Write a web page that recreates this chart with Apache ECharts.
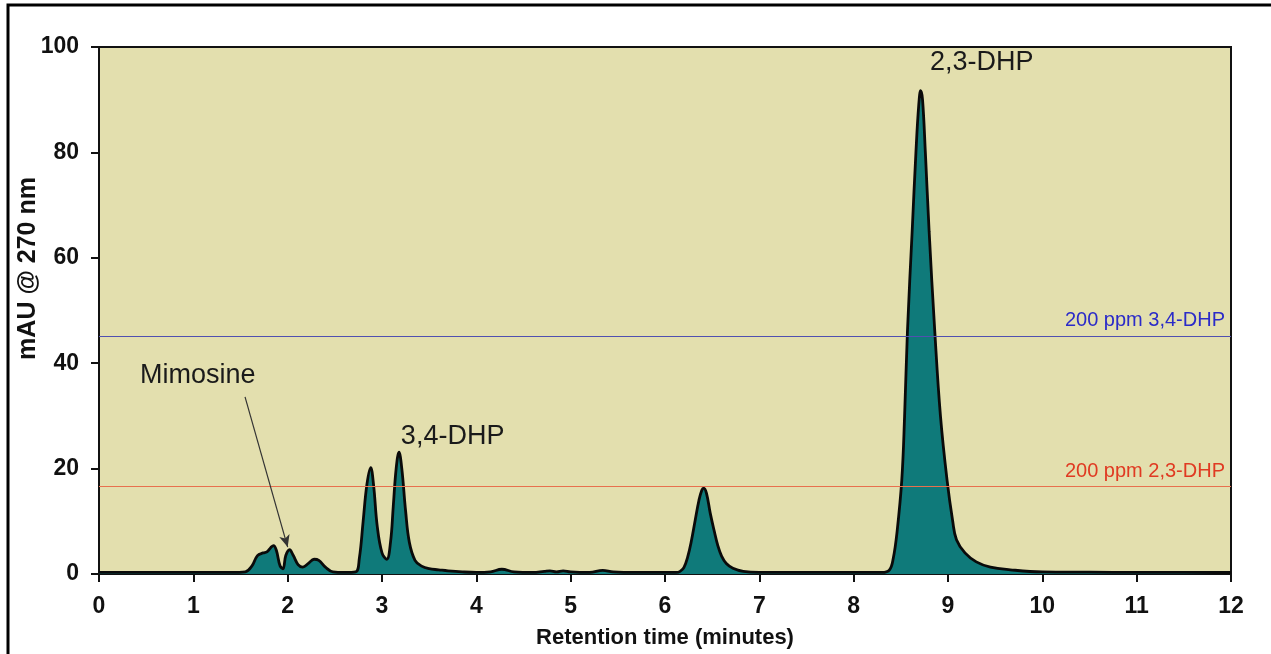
<!DOCTYPE html>
<html>
<head>
<meta charset="utf-8">
<script src="https://cdn.jsdelivr.net/npm/echarts@6/dist/echarts.min.js"></script>
<style>
  html, body { margin: 0; padding: 0; background: #fff; }
  #main { width: 1271px; height: 654px; }
</style>
</head>
<body>
<div id="main"></div>
<script>
// retention time (minutes) and absorbance (mAU)
var rt = [0, 0.5, 1.0, 1.4, 1.55,
  1.62, 1.68, 1.74, 1.78, 1.82, 1.85, 1.88, 1.92, 1.95, 1.98, 2.02, 2.06, 2.11, 2.16, 2.22, 2.28, 2.33, 2.40, 2.48, 2.6, 2.72,
  2.76, 2.80, 2.84, 2.88, 2.91, 2.95, 3.00, 3.05, 3.09, 3.12, 3.15, 3.18, 3.21, 3.25, 3.29, 3.35, 3.42, 3.5, 3.6, 3.7, 3.85,
  4.0, 4.15, 4.27, 4.4, 4.6, 4.72, 4.78, 4.85, 4.92, 5.0, 5.2, 5.34, 5.45, 5.7, 6.0, 6.12,
  6.16, 6.20, 6.24, 6.28, 6.32, 6.36, 6.39, 6.41, 6.44, 6.48, 6.52, 6.56, 6.60, 6.65, 6.72, 6.83, 7.0, 7.5, 8.0, 8.3,
  8.38, 8.42, 8.46, 8.51, 8.54, 8.57, 8.62, 8.66, 8.69, 8.71, 8.73, 8.76, 8.80, 8.86, 8.92, 8.99, 9.05, 9.09, 9.18, 9.30, 9.45, 9.66,
  10.0, 10.5, 11.0, 11.5, 12.0];
var mau = [0.3, 0.3, 0.3, 0.3, 0.4,
  1.5, 3.5, 4.0, 4.2, 5.0, 5.4, 4.5, 1.5, 1.0, 3.5, 4.6, 3.5, 1.8, 1.3, 2.0, 2.8, 2.6, 1.3, 0.4, 0.3, 0.4,
  3, 10, 17, 20.2, 17, 9, 4, 2.8, 6, 13, 20, 23.1, 20, 12, 6, 2.6, 1.5, 1.0, 0.8, 0.6, 0.4,
  0.3, 0.4, 0.9, 0.4, 0.3, 0.5, 0.6, 0.4, 0.6, 0.4, 0.3, 0.7, 0.4, 0.3, 0.3, 0.3,
  0.5, 1.2, 3.2, 6.3, 10.2, 14.0, 15.9, 16.3, 15.3, 11.5, 8.3, 5.4, 3.4, 2.0, 1.1, 0.5, 0.3, 0.3, 0.3, 0.3,
  0.8, 3.0, 8, 17.8, 30, 46, 65, 80, 89, 91.7, 90, 80, 65, 46, 30, 17.8, 10, 6.5, 4, 2.3, 1.3, 0.8,
  0.4, 0.35, 0.3, 0.3, 0.3];

// 200 ppm reference levels
var refNames = ['200 ppm 3,4-DHP', '200 ppm 2,3-DHP'];
var refLevels = [45.2, 16.7];
var refColors = ['#2b2bc8', '#e03a22'];
var refLineColors = ['#5050b0', '#e8704e'];

// peak annotations [time, mAU]
var peakNames = ['2,3-DHP', '3,4-DHP', 'Mimosine'];
var peakAt = [[8.81, 97.0], [3.20, 26.0], [0.435, 37.6]];
// arrow from the Mimosine label to its peak
var arrowFrom = [1.548, 33.6];
var arrowTo = [2.0, 5.1];

var xTicks = [0, 12, 1];
var yTicks = [0, 100, 20];

var trace = [];
for (var i = 0; i < rt.length; i++) {
    trace.push([rt[i], mau[i]]);
}

var lines = [];
for (var k = 0; k < refLevels.length; k++) {
    lines.push({
        yAxis: refLevels[k],
        lineStyle: { color: refLineColors[k], width: 1.2, type: 'solid' },
        label: {
            show: true, formatter: refNames[k], position: 'insideEndTop',
            color: refColors[k], fontSize: 20, distance: [6, 5]
        }
    });
}
// the arrow line
lines.push([
    { coord: arrowFrom, symbol: 'none', lineStyle: { color: '#333', width: 1.2, type: 'solid' }, label: { show: false } },
    { coord: arrowTo, symbol: 'arrow', symbolSize: [8, 12] }
]);

var points = [];
for (var j = 0; j < peakNames.length; j++) {
    points.push({
        coord: peakAt[j],
        symbolSize: 0,
        label: {
            show: true, formatter: peakNames[j], position: 'right', distance: 0,
            color: '#1a1a1a', fontSize: 27
        }
    });
}

var font = '"Liberation Sans", Arial, sans-serif';

var myChart = echarts.init(document.getElementById('main'));

var option = {
    animation: false,
    textStyle: { fontFamily: font },
    grid: {
        left: 99, right: 40, top: 47, bottom: 80,
        outerBoundsMode: 'none',
        show: true, backgroundColor: '#e3dfae',
        borderColor: '#111', borderWidth: 2
    },
    graphic: [{
        type: 'polyline',
        shape: { points: [[8, 654], [8, 5], [1271, 5]] },
        style: { stroke: '#000', lineWidth: 3, fill: null }
    }],
    xAxis: {
        type: 'value', min: xTicks[0], max: xTicks[1], interval: xTicks[2],
        name: 'Retention time (minutes)', nameLocation: 'middle', nameGap: 53,
        nameMoveOverlap: false,
        nameTextStyle: { fontSize: 22, fontWeight: 'bold', color: '#111', fontFamily: font },
        axisLine: { lineStyle: { color: '#111', width: 2 } },
        axisTick: { show: true, length: 8, lineStyle: { color: '#111', width: 2 } },
        axisLabel: { fontSize: 23, fontWeight: 'bold', color: '#111', margin: 21, fontFamily: font },
        splitLine: { show: false }
    },
    yAxis: {
        type: 'value', min: yTicks[0], max: yTicks[1], interval: yTicks[2],
        name: 'mAU @ 270 nm', nameLocation: 'middle', nameGap: 58,
        nameMoveOverlap: false,
        nameTextStyle: { fontSize: 25, fontWeight: 'bold', color: '#111', fontFamily: font, padding: [0, 0, 0, 84] },
        axisLine: { show: true, lineStyle: { color: '#111', width: 2 } },
        axisTick: { show: true, length: 8, lineStyle: { color: '#111', width: 2 } },
        axisLabel: { fontSize: 23, fontWeight: 'bold', color: '#111', margin: 20, fontFamily: font },
        splitLine: { show: false }
    },
    series: [{
        type: 'line',
        data: trace,
        smooth: 0.4,
        showSymbol: false,
        symbol: 'none',
        lineStyle: { color: '#0a0a0a', width: 2.8 },
        areaStyle: { color: '#0f7a7a', opacity: 1 },
        markLine: { silent: true, symbol: 'none', data: lines },
        markPoint: { silent: true, symbol: 'circle', data: points }
    }]
};

myChart.setOption(option);
</script>
</body>
</html>
